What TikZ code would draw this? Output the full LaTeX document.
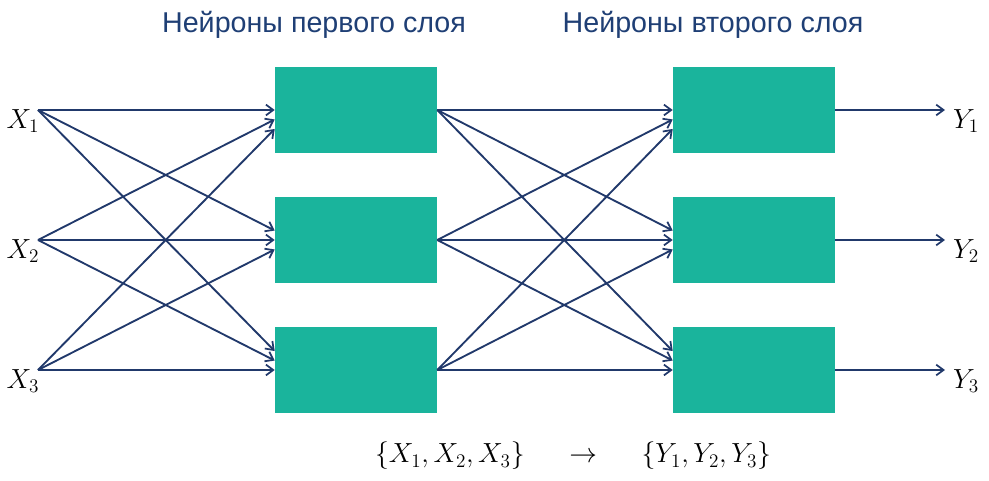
\documentclass[tikz,border=0pt]{standalone}
\usepackage{fontspec}
\setmainfont{Liberation Sans}
\usetikzlibrary{arrows.meta}
\definecolor{boxteal}{HTML}{1AB49C}
\definecolor{linenavy}{HTML}{21396B}
\definecolor{titleblue}{HTML}{1F3F75}
\begin{document}
\begin{tikzpicture}[x=0.75pt,y=-0.75pt,
  neuron/.style={rectangle,fill=boxteal,draw=none,inner sep=0pt,minimum width=121.5pt,minimum height=64.5pt},
  conn/.style={draw=linenavy,line width=1.4pt,-{Straight Barb[length=5.5pt,width=8pt,line width=1.3pt]}},
  var/.style={font=\fontsize{21}{24}\selectfont},
  formula/.style={font=\fontsize{22}{26}\selectfont},
  title/.style={font=\fontsize{21.5}{25}\selectfont,text=titleblue}]
\useasboundingbox (0,0) rectangle (989,481);
% titles
\node[title] (t1) at (314,25) {Нейроны первого слоя};
\node[title] (t2) at (713,25) {Нейроны второго слоя};
% boxes
\node[neuron] (a1) at (356,110) {};
\node[neuron] (a2) at (356,240) {};
\node[neuron] (a3) at (356,370) {};
\node[neuron] (b1) at (754,110) {};
\node[neuron] (b2) at (754,240) {};
\node[neuron] (b3) at (754,370) {};
% inputs
\node[var] (lx1) at (23,121) {$X_1$};
\node[var] (lx2) at (23,251) {$X_2$};
\node[var] (lx3) at (23,381) {$X_3$};
\coordinate (x1) at (38,110);
\coordinate (x2) at (38,240);
\coordinate (x3) at (38,370);
% outputs
\coordinate (y1) at (945,110);
\coordinate (y2) at (945,240);
\coordinate (y3) at (945,370);
\node[var] (ly1) at (966,121) {$Y_1$};
\node[var] (ly2) at (966,251) {$Y_2$};
\node[var] (ly3) at (966,381) {$Y_3$};
% connections
\foreach \i in {1,2,3}{
  \foreach \j in {1,2,3}{
    \pgfmathsetmacro{\off}{-(\i-\j)*7.1}
    \draw[conn] (x\i) -- ([yshift=\off pt]a\j.west);
    \draw[conn] (a\i.east) -- ([yshift=\off pt]b\j.west);
  }
  \draw[conn] (b\i.east) -- (y\i);
}
% formula
\node[formula] (f) at (573,456) {$\{X_1, X_2, X_3\}\quad\;\rightarrow\quad\;\{Y_1, Y_2, Y_3\}$};
\end{tikzpicture}
\end{document}
